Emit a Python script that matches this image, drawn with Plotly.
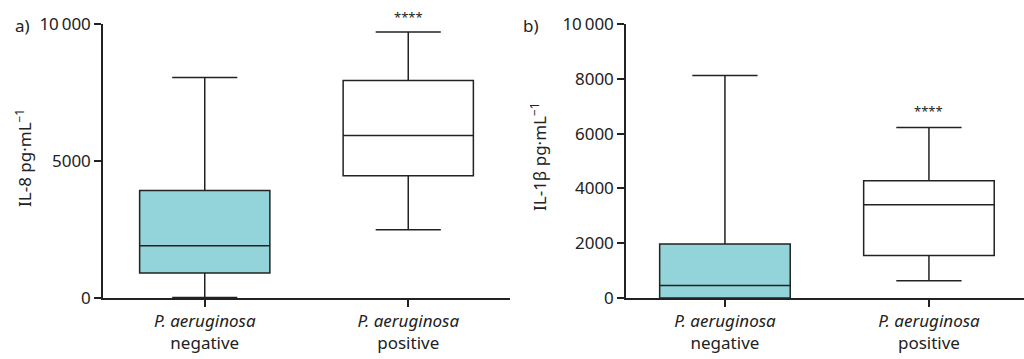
import plotly.graph_objects as go

# Data
categories = ["<i>P. aeruginosa</i><br>negative", "<i>P. aeruginosa</i><br>positive"]
il8_lower = [20, 2490]
il8_q1 = [915, 4465]
il8_median = [1905, 5935]
il8_q3 = [3925, 7940]
il8_upper = [8050, 9710]

il1b_lower = [0, 630]
il1b_q1 = [0, 1555]
il1b_median = [460, 3405]
il1b_q3 = [1970, 4280]
il1b_upper = [8125, 6225]

fills = ["#92D4D9", "#FFFFFF"]
stars_a = ["", "****"]
stars_b = ["", "****"]

FONT = "Noto Sans"
LINE = "#222222"
FS = 17
W, H = 1024, 359
ML, MT, MB = 103, 24, 61
PW = W - ML
PH = H - MT - MB

def px2paper(x):
    return (x - ML) / PW

def py2paper(y):
    return (H - MB - y) / PH

fig = go.Figure()

for i in range(2):
    fig.add_trace(go.Box(
        x=[i], lowerfence=[il8_lower[i]], q1=[il8_q1[i]], median=[il8_median[i]],
        q3=[il8_q3[i]], upperfence=[il8_upper[i]],
        fillcolor=fills[i], line=dict(color=LINE, width=1.5),
        width=0.64, whiskerwidth=0.5, boxpoints=False, showlegend=False,
        xaxis="x", yaxis="y", hoverinfo="skip"))
    fig.add_trace(go.Box(
        x=[i], lowerfence=[il1b_lower[i]], q1=[il1b_q1[i]], median=[il1b_median[i]],
        q3=[il1b_q3[i]], upperfence=[il1b_upper[i]],
        fillcolor=fills[i], line=dict(color=LINE, width=1.5),
        width=0.64, whiskerwidth=0.5, boxpoints=False, showlegend=False,
        xaxis="x2", yaxis="y2", hoverinfo="skip"))

axis_common = dict(showgrid=False, zeroline=False, showline=True, linecolor=LINE,
                   linewidth=1.5, ticks="outside", ticklen=7, tickwidth=1.5,
                   tickcolor=LINE, tickfont=dict(family=FONT, size=FS, color="#222"))

fig.update_layout(
    width=W, height=H,
    margin=dict(l=ML, r=0, t=MT, b=MB),
    plot_bgcolor="white", paper_bgcolor="white",
    xaxis=dict(domain=[0, px2paper(510)], range=[-0.5, 1.5], tickmode="array",
               tickvals=[0, 1], ticktext=categories, anchor="y", **axis_common),
    yaxis=dict(domain=[0, 1], range=[0, 10000], tickmode="array",
               tickvals=[0, 5000, 10000], ticktext=["0", "5000", "10\u2009000"],
               anchor="x", **axis_common),
    xaxis2=dict(domain=[px2paper(626), 1], range=[-0.485, 1.466], tickmode="array",
                tickvals=[0, 1], ticktext=categories, anchor="y2", **axis_common),
    yaxis2=dict(domain=[0, 1], range=[0, 10000], tickmode="array",
                tickvals=[0, 2000, 4000, 6000, 8000, 10000],
                ticktext=["0", "2000", "4000", "6000", "8000", "10\u2009000"],
                anchor="x2", **axis_common),
)

txtfont = dict(family=FONT, size=FS, color="#222")
ann = []
ann.append(dict(text="IL-8 pg·mL<sup>−1</sup>", textangle=-90, xref="paper", yref="paper",
                x=px2paper(23), y=py2paper(158), xanchor="center", yanchor="middle",
                showarrow=False, font=txtfont))
ann.append(dict(text="IL-1β pg·mL<sup>−1</sup>", textangle=-90, xref="paper", yref="paper",
                x=px2paper(538), y=py2paper(157), xanchor="center", yanchor="middle",
                showarrow=False, font=txtfont))
ann.append(dict(text="a)", xref="paper", yref="paper", x=px2paper(22), y=py2paper(25),
                xanchor="center", yanchor="middle", showarrow=False, font=txtfont))
ann.append(dict(text="b)", xref="paper", yref="paper", x=px2paper(531), y=py2paper(25),
                xanchor="center", yanchor="middle", showarrow=False, font=txtfont))
for i in range(2):
    if stars_a[i]:
        ann.append(dict(text=stars_a[i], xref="x", yref="y", x=i, y=il8_upper[i],
                        yshift=15, showarrow=False,
                        font=dict(family=FONT, size=13, color="#222")))
    if stars_b[i]:
        ann.append(dict(text=stars_b[i], xref="x2", yref="y2", x=i, y=il1b_upper[i],
                        yshift=16, showarrow=False,
                        font=dict(family=FONT, size=13, color="#222")))
fig.update_layout(annotations=ann)

fig.write_html("out.html")
